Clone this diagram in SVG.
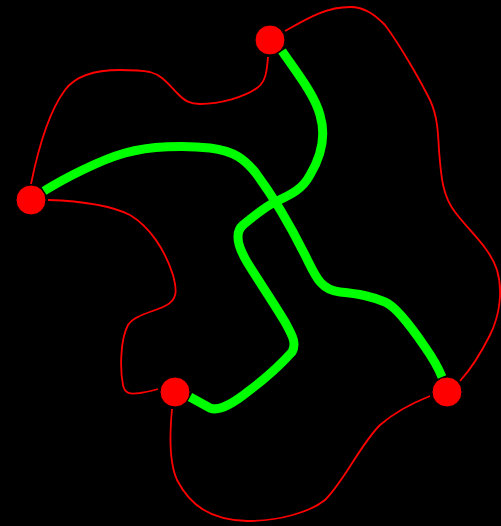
<svg xmlns="http://www.w3.org/2000/svg" width="501" height="526" viewBox="0 0 501 526">
<style>
.thin{fill:none;stroke:#ff0000;stroke-width:1.8}
.thick{fill:none;stroke:#00ff00;stroke-width:9;stroke-linejoin:round}
.node{fill:#ff0000;stroke:#000;stroke-width:1}
</style>
<rect width="501" height="526" fill="#000"/>
<g id="connectors">
<path class="thick" d="M282,51 C295,70 315,95 320,115 C326,135 322,155 310,175 C302,190 290,195 275,202 C265,207 255,215 243,225 C235,232 237,245 247,262 C258,280 275,305 285,322 C292,335 297,343 292,352 C283,362 270,375 250,390 C235,402 220,412 210,408 L190,397"/>
<path class="thick" d="M44,191 C65,178 100,160 125,153 C150,146 185,145 210,148 C235,151 245,160 255,172 C270,192 290,225 305,255 C315,275 320,290 340,292 C360,294 370,296 385,302 C395,306 410,325 425,347 C432,357 438,367 442,377"/>
<path class="thin" d="M268,57 C267,70 266,82 257,88 C245,97 220,104 200,104 C190,104 185,101 178,94 C168,84 162,75 150,72 C140,70 130,70 120,70 C95,70 76,75 65,90 C50,110 40,140 31,184"/>
<path class="thin" d="M285,31 C305,20 325,7 350,7 C365,7 375,15 385,25 C400,45 420,80 430,100 C437,115 438,130 439,150 C441,175 442,195 455,212 C470,232 490,248 497,270 C503,290 500,315 490,335 C480,355 470,370 460,381"/>
<path class="thin" d="M48,200 C80,201 110,205 130,215 C150,227 165,250 173,275 C177,290 178,300 165,306 C150,313 135,315 128,325 C120,340 120,370 123,385 C125,395 132,394 140,393 C146,392 152,391 158,389"/>
<path class="thin" d="M172,409 C170,430 168,460 177,480 C190,505 210,520 247,521 C280,521 310,512 325,500 C345,480 360,445 380,425 C395,412 415,402 430,396"/>
</g>
<g id="n1"><circle class="node" cx="270" cy="40" r="15"/></g>
<g id="n2"><circle class="node" cx="31" cy="200" r="15"/></g>
<g id="n3"><circle class="node" cx="175" cy="392" r="15"/></g>
<g id="n4"><circle class="node" cx="447" cy="392" r="15"/></g>
</svg>
